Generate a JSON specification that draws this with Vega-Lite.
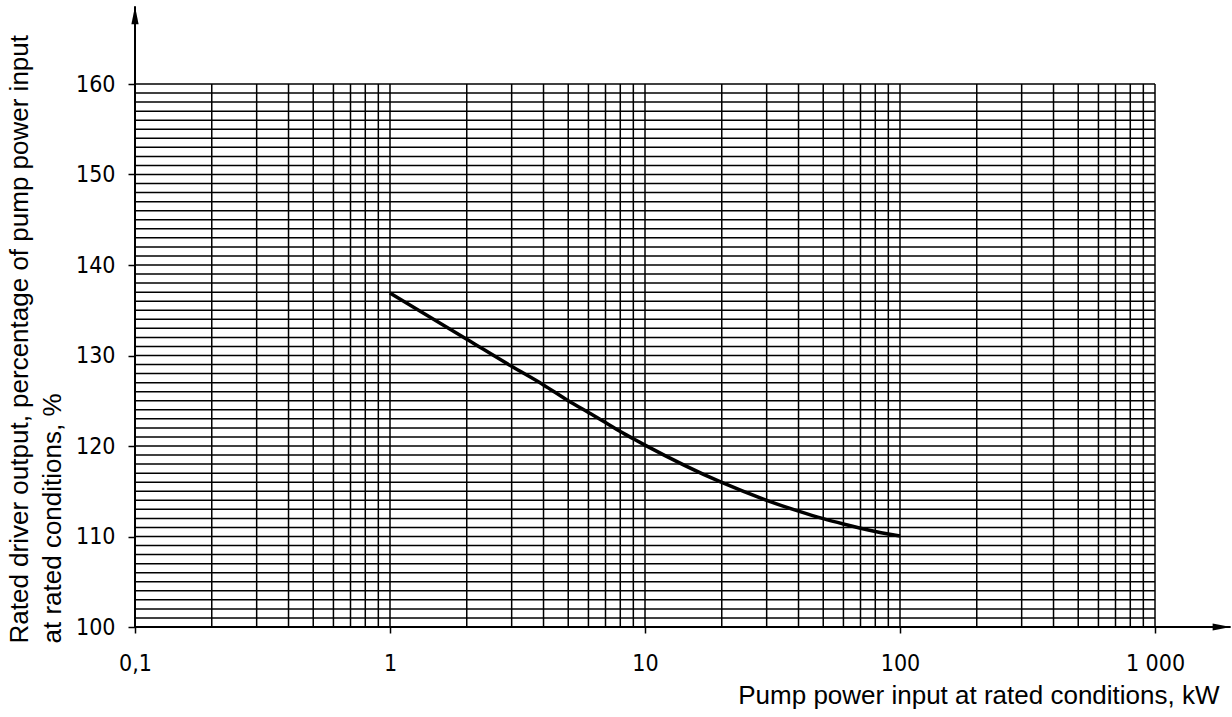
{
  "$schema": "https://vega.github.io/schema/vega-lite/v6.json",
  "width": 1020,
  "height": 543,
  "autosize": {"type": "none"},
  "padding": {"left": 135, "top": 84, "right": 77, "bottom": 90},
  "background": "white",
  "config": {"view": {"stroke": null}},
  "datasets": {
    "hgrid": [
      {"v": 100}, {"v": 101}, {"v": 102}, {"v": 103}, {"v": 104}, {"v": 105}, {"v": 106}, {"v": 107}, {"v": 108}, {"v": 109},
      {"v": 110}, {"v": 111}, {"v": 112}, {"v": 113}, {"v": 114}, {"v": 115}, {"v": 116}, {"v": 117}, {"v": 118}, {"v": 119},
      {"v": 120}, {"v": 121}, {"v": 122}, {"v": 123}, {"v": 124}, {"v": 125}, {"v": 126}, {"v": 127}, {"v": 128}, {"v": 129},
      {"v": 130}, {"v": 131}, {"v": 132}, {"v": 133}, {"v": 134}, {"v": 135}, {"v": 136}, {"v": 137}, {"v": 138}, {"v": 139},
      {"v": 140}, {"v": 141}, {"v": 142}, {"v": 143}, {"v": 144}, {"v": 145}, {"v": 146}, {"v": 147}, {"v": 148}, {"v": 149},
      {"v": 150}, {"v": 151}, {"v": 152}, {"v": 153}, {"v": 154}, {"v": 155}, {"v": 156}, {"v": 157}, {"v": 158}, {"v": 159},
      {"v": 160}
    ],
    "vgrid": [
      {"v": 0.1}, {"v": 0.2}, {"v": 0.3}, {"v": 0.4}, {"v": 0.5}, {"v": 0.6}, {"v": 0.7}, {"v": 0.8}, {"v": 0.9},
      {"v": 1}, {"v": 2}, {"v": 3}, {"v": 4}, {"v": 5}, {"v": 6}, {"v": 7}, {"v": 8}, {"v": 9},
      {"v": 10}, {"v": 20}, {"v": 30}, {"v": 40}, {"v": 50}, {"v": 60}, {"v": 70}, {"v": 80}, {"v": 90},
      {"v": 100}, {"v": 200}, {"v": 300}, {"v": 400}, {"v": 500}, {"v": 600}, {"v": 700}, {"v": 800}, {"v": 900},
      {"v": 1000}
    ],
    "curve": [
      {"power": 1, "output": 136.9},
      {"power": 2, "output": 131.8},
      {"power": 3, "output": 128.8},
      {"power": 4, "output": 126.75},
      {"power": 5, "output": 125.0},
      {"power": 6, "output": 123.7},
      {"power": 7, "output": 122.6},
      {"power": 8, "output": 121.6},
      {"power": 9, "output": 120.8},
      {"power": 10, "output": 120.1},
      {"power": 20, "output": 115.97},
      {"power": 30, "output": 114.0},
      {"power": 40, "output": 112.8},
      {"power": 50, "output": 111.97},
      {"power": 60, "output": 111.38},
      {"power": 70, "output": 110.92},
      {"power": 80, "output": 110.56},
      {"power": 90, "output": 110.28},
      {"power": 100, "output": 110.05}
    ],
    "axes": [
      {"axis": "x", "x1": 0.1, "y1": 100, "x2": 1980, "y2": 100},
      {"axis": "y", "x1": 0.1, "y1": 100, "x2": 0.1, "y2": 168.6}
    ]
  },
  "layer": [
    {
      "data": {"name": "curve"},
      "mark": {"type": "line", "color": "black", "strokeWidth": 3.5, "interpolate": "monotone"},
      "encoding": {
        "x": {
          "field": "power",
          "type": "quantitative",
          "scale": {"type": "log", "domain": [0.1, 1000], "nice": false},
          "axis": {
            "values": [0.1, 1, 10, 100, 1000],
            "labelExpr": "datum.value < 0.5 ? '0,1' : (datum.value > 500 ? '1 000' : format(datum.value, 'd'))",
            "domain": false,
            "grid": false,
            "ticks": true,
            "tickSize": 6,
            "tickWidth": 1.5,
            "tickColor": "black",
            "labelFont": "DejaVu Sans Condensed, sans-serif",
            "labelFontSize": 23,
            "labelColor": "black",
            "labelPadding": 19,
            "labelBaseline": "top",
            "labelFlush": false,
            "labelOverlap": false,
            "title": "Pump power input at rated conditions, kW",
            "titleFont": "Liberation Sans, Arial, sans-serif",
            "titleFontSize": 26,
            "titleFontWeight": "normal",
            "titleColor": "black",
            "titleAlign": "right",
            "titleBaseline": "alphabetic",
            "titleAnchor": "end",
            "titleX": 1084,
            "titleY": 76
          }
        },
        "y": {
          "field": "output",
          "type": "quantitative",
          "scale": {"domain": [100, 160], "nice": false, "zero": false},
          "axis": {
            "values": [100, 110, 120, 130, 140, 150, 160],
            "domain": false,
            "grid": false,
            "ticks": true,
            "tickSize": 7,
            "tickWidth": 1.5,
            "tickColor": "black",
            "labelFont": "DejaVu Sans Condensed, sans-serif",
            "labelFontSize": 23,
            "labelColor": "black",
            "labelPadding": 13,
            "labelBaseline": "middle",
            "labelFlush": false,
            "labelOverlap": false,
            "title": ["Rated driver output, percentage of pump power input", "at rated conditions, %"],
            "titleFont": "Liberation Sans, Arial, sans-serif",
            "titleFontSize": 26,
            "titleFontWeight": "normal",
            "titleColor": "black",
            "titleLineHeight": 33,
            "titleAngle": -90,
            "titleAlign": "left",
            "titleBaseline": "top",
            "titleAnchor": "start",
            "titleX": -129,
            "titleY": 559
          }
        }
      }
    },
    {
      "data": {"name": "hgrid"},
      "mark": {"type": "rule", "color": "black", "strokeWidth": 1.5},
      "encoding": {
        "y": {"field": "v", "type": "quantitative"},
        "x": {"datum": 0.1, "type": "quantitative"},
        "x2": {"datum": 1000}
      }
    },
    {
      "data": {"name": "vgrid"},
      "mark": {"type": "rule", "color": "black", "strokeWidth": 1.5},
      "encoding": {
        "x": {"field": "v", "type": "quantitative"},
        "y": {"datum": 100, "type": "quantitative"},
        "y2": {"datum": 160}
      }
    },
    {
      "data": {"name": "axes"},
      "mark": {"type": "rule", "color": "black", "strokeWidth": 2},
      "encoding": {
        "x": {"field": "x1", "type": "quantitative"},
        "y": {"field": "y1", "type": "quantitative"},
        "x2": {"field": "x2"},
        "y2": {"field": "y2"}
      }
    },
    {
      "data": {"name": "axes"},
      "mark": {"type": "point", "filled": true, "color": "black", "opacity": 1, "size": 1296, "strokeWidth": 0},
      "encoding": {
        "x": {"field": "x2", "type": "quantitative"},
        "y": {"field": "y2", "type": "quantitative"},
        "shape": {
          "field": "axis",
          "type": "nominal",
          "scale": {"domain": ["x", "y"], "range": ["M0,0L-1,0.2L-1,-0.2Z", "M0,0L0.2,1L-0.2,1Z"]},
          "legend": null
        }
      }
    }
  ]
}
